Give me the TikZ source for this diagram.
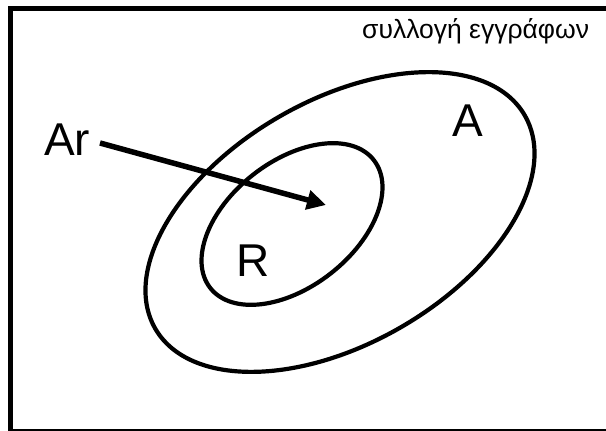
\documentclass[tikz,border=0pt]{standalone}
\usepackage{fontspec}
\setmainfont{Liberation Sans}
\usetikzlibrary{arrows.meta}
\begin{document}
\begin{tikzpicture}[x=1pt,y=1pt,
  lbl/.style={inner sep=0pt,anchor=base west,font=\fontsize{46}{50}\selectfont},
  ttl/.style={inner sep=0pt,anchor=base west,font=\fontsize{26.5}{30}\selectfont},
  ring/.style={line width=4.2pt},
  arr/.style={line width=5.5pt,-{Triangle[length=19pt,width=19pt]}}]
\useasboundingbox (0,0) rectangle (606,431);
\clip (0,0) rectangle (606,431);
% frame
\draw[line width=4.5pt] (10.5,-0.5) rectangle (612,422.5);
% ellipses
\draw[ring,rotate around={30:(340,209)}] (340,209) ellipse (213.3 and 121.6);
\draw[ring,rotate around={38:(292,207)}] (292,207) ellipse (103.8 and 62.8);
% labels
\node[ttl] (title) at (362,392) {συλλογή εγγράφων};
\node[lbl] (Ar) at (44,275) {Ar};
\node[lbl] (A) at (452,294) {A};
\node[lbl] (R) at (236,154) {R};
% arrow
\coordinate (tail) at (100,288);
\coordinate (tip) at (326,226);
\draw[arr] (tail) -- (tip);
\end{tikzpicture}
\end{document}
